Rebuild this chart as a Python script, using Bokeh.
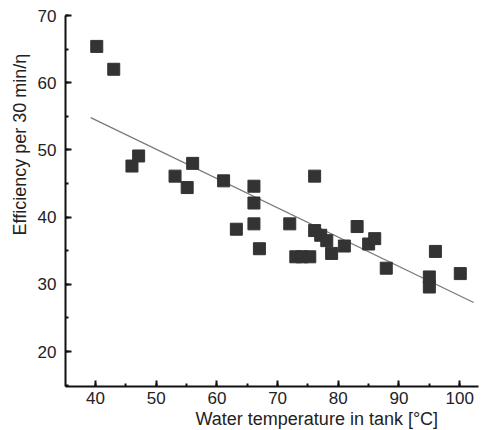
from bokeh.plotting import figure
from bokeh.models import SingleIntervalTicker, Range1d, Title
from bokeh.embed import file_html
from bokeh.resources import INLINE

# data
temp = [40.2, 43.0, 46.0, 47.1, 53.1, 55.1, 56.0, 61.1, 63.2, 66.1, 66.1, 66.1, 67.0,
        72.0, 73.0, 74.0, 75.3, 76.1, 76.1, 77.1, 78.1, 78.9, 81.0, 83.1, 85.0, 86.0,
        87.9, 95.0, 95.0, 96.0, 100.1]
eff = [65.4, 62.0, 47.6, 49.1, 46.1, 44.4, 48.0, 45.4, 38.2, 44.6, 42.1, 39.0, 35.3,
       39.0, 34.1, 34.1, 34.1, 46.1, 38.0, 37.3, 36.5, 34.6, 35.7, 38.6, 36.0, 36.8,
       32.4, 31.1, 29.6, 34.9, 31.6]
trend_x = [39.2, 102.3]
trend_y = [54.8, 27.3]
tick_interval = 10
x_label = "Water temperature in tank [°C]"
y_label = "Efficiency per 30 min/\u03b7"

FONT = "Liberation Sans"

p = figure(width=480, height=430, output_backend="svg", toolbar_location=None,
           x_range=Range1d(35.05, 103.1), y_range=Range1d(14.8, 70.0),
           min_border_left=65, min_border_right=2, min_border_top=15, min_border_bottom=44)
p.outline_line_color = None
p.grid.visible = False
p.background_fill_color = "white"
p.border_fill_color = "white"

p.line(trend_x, trend_y, line_color="#7a7a7a", line_width=1.3)
p.scatter(temp, eff, marker="square", size=12, fill_color="#333333", line_color="#333333")

for ax in (p.xaxis[0], p.yaxis[0]):
    ax.ticker = SingleIntervalTicker(interval=tick_interval, num_minor_ticks=2)
    ax.axis_line_width = 2
    ax.axis_line_color = "#111111"
    ax.major_tick_in = 6
    ax.major_tick_out = 0
    ax.minor_tick_in = 3
    ax.minor_tick_out = 0
    ax.major_tick_line_width = 2
    ax.minor_tick_line_width = 2
    ax.major_tick_line_color = "#111111"
    ax.minor_tick_line_color = "#111111"
    ax.major_label_text_font = FONT
    ax.major_label_text_font_size = "17px"
    ax.major_label_text_color = "#222222"
p.xaxis[0].major_label_standoff = 5
p.yaxis[0].major_label_standoff = 9

p.add_layout(Title(text=x_label, align="left", offset=130, text_font=FONT,
                   text_font_size="18px", text_font_style="normal",
                   text_color="#222222", standoff=0), "below")
p.add_layout(Title(text=y_label, align="left", offset=151, text_font=FONT,
                   text_font_size="18px", text_font_style="normal",
                   text_color="#222222", standoff=10), "left")

open("out.html", "w").write(file_html(p, INLINE))
